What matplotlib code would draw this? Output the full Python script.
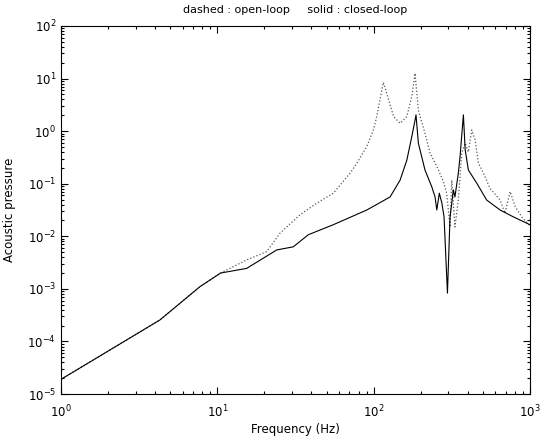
import matplotlib
matplotlib.use('Agg')
import matplotlib.pyplot as plt

# open-loop response (dotted)
f_open = [1.0, 2.06, 4.30, 7.74, 10.5, 15.4, 20.7, 25.2, 33.8, 43.3, 55.2, 70.6, 78.0,
          90.4, 99.5, 104.7, 115.3, 121.3, 134, 147.6, 163, 175.4, 184, 193.2, 213,
          229.6, 253.5, 279.3, 293, 308, 316, 331, 348, 366, 385, 403, 424, 446, 468,
          504, 556, 644, 692, 746, 804, 885, 1000]
p_open = [1.9e-5, 6.9e-5, 2.57e-4, 1.10e-3, 2.0e-3, 3.55e-3, 5.1e-3, 1.15e-2, 2.57e-2,
          4.27e-2, 6.6e-2, 0.158, 0.245, 0.51, 1.05, 1.9, 8.5, 5.2, 1.9, 1.41, 1.9, 4.6,
          12.6, 2.5, 0.91, 0.38, 0.214, 0.11, 0.066, 0.015, 0.117, 0.015, 0.049, 0.38,
          0.59, 0.40, 1.05, 0.68, 0.245, 0.158, 0.081, 0.049, 0.0275, 0.071, 0.037,
          0.0234, 0.0158]

# closed-loop response (solid)
f_closed = [1.0, 2.06, 4.30, 7.74, 10.5, 15.4, 24.0, 30.6, 38.2, 55.2, 90.4, 127.4,
            147.6, 163, 175.4, 184, 186.6, 193.2, 213, 235.5, 247, 253.5, 263, 273,
            282, 296.5, 308, 316, 323.6, 331, 348, 357, 375, 385, 403.6, 457, 528,
            644, 783, 1000]
p_closed = [1.9e-5, 6.9e-5, 2.57e-4, 1.10e-3, 2.0e-3, 2.45e-3, 5.5e-3, 6.3e-3, 1.07e-2,
            1.66e-2, 3.16e-2, 5.6e-2, 0.117, 0.28, 0.79, 1.62, 2.04, 0.59, 0.182, 0.087,
            0.056, 0.0316, 0.066, 0.043, 0.0234, 8.3e-4, 0.0234, 0.043, 0.076, 0.056,
            0.158, 0.33, 2.04, 0.44, 0.182, 0.102, 0.049, 0.0316, 0.0234, 0.0166]

x_decades = [0, 1, 2, 3]
y_decades = [-5, -4, -3, -2, -1, 0, 1, 2]

plt.rcParams['font.family'] = ['DejaVu Sans']
plt.rcParams['font.size'] = 8.5

fig = plt.figure(figsize=(5.47, 4.45), dpi=100)
ax = fig.add_axes([0.1115, 0.1146, 0.8574, 0.827])

ax.loglog(f_open, p_open, linestyle=':', color='#555555', linewidth=0.9)
ax.loglog(f_closed, p_closed, linestyle='-', color='black', linewidth=0.8)

ax.set_xlim(1, 1000)
ax.set_ylim(1e-5, 1e2)
ax.set_xticks([10.0 ** d for d in x_decades])
ax.set_xticklabels(['$10^{%d}$' % d for d in x_decades])
ax.set_yticks([10.0 ** d for d in y_decades])
ax.set_yticklabels(['$10^{%d}$' % d for d in y_decades])
ax.set_xticks([k * 10.0 ** d for d in x_decades[:-1] for k in range(2, 10)], minor=True)
ax.set_yticks([k * 10.0 ** d for d in y_decades[:-1] for k in range(2, 10)], minor=True)
ax.tick_params(which='both', direction='in', top=True, right=True, width=0.8)
ax.tick_params(which='major', length=5)
ax.tick_params(which='minor', length=2.5)
ax.tick_params(axis='x', which='major', pad=7)
ax.set_title('dashed : open-loop     solid : closed-loop', fontsize=8, pad=9)
ax.set_xlabel('Frequency (Hz)', labelpad=2)
ax.set_ylabel('Acoustic pressure', labelpad=8)

fig.savefig('out.png', dpi=100)
